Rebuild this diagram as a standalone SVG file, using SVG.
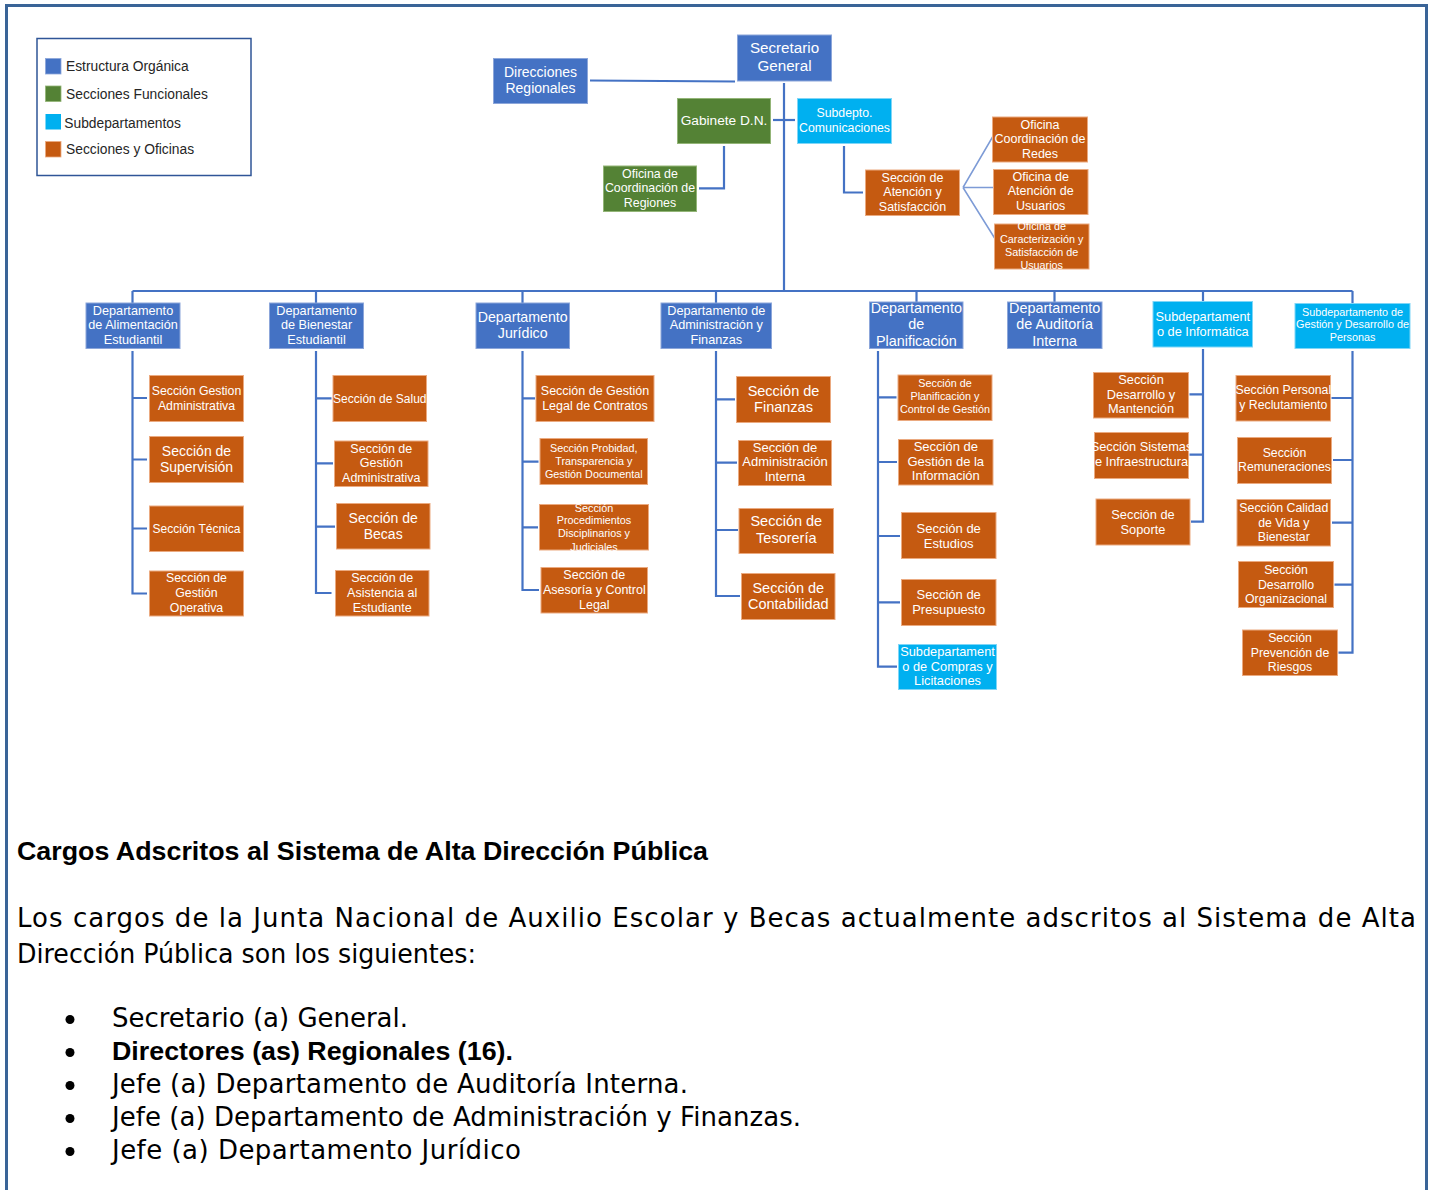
<svg xmlns="http://www.w3.org/2000/svg" width="1429" height="1190" viewBox="0 0 1429 1190">
<style>
.b{fill:#4472C4;stroke:#8CA6DA;stroke-width:1}
.g{fill:#548235;stroke:#93B577;stroke-width:1}
.c{fill:#00B0F0;stroke:#7FD6F7;stroke-width:1}
.o{fill:#C55A11;stroke:#EBAA80;stroke-width:1}
.t{font-family:"Liberation Sans",Arial,sans-serif;fill:#FFFFFF;text-anchor:middle}
.ln{fill:none;stroke:#4472C4;stroke-width:2.2}
.fan{fill:none;stroke:#7D9BD6;stroke-width:1.5}
.lg{font-family:"Liberation Sans",Arial,sans-serif;font-size:13.8px;fill:#262626}
.body{font-family:"DejaVu Sans","Liberation Sans",sans-serif;font-size:26px;fill:#000}
.bold{font-family:"Liberation Sans",Arial,sans-serif;font-weight:bold;font-size:26.5px;fill:#000}
</style>
<rect x="0" y="0" width="1429" height="1190" fill="#FFFFFF"/>
<path d="M6.5,1190 V5.5 H1426.5 V1190" fill="none" stroke="#3A6497" stroke-width="3"/>

<g id="legend">
<rect x="37" y="38.5" width="214" height="137" fill="#FFFFFF" stroke="#2F5597" stroke-width="1.5"/>
<rect x="45.5" y="58.5" width="15.5" height="15.5" fill="#4472C4" stroke="#8CA6DA" stroke-width="0.8"/>
<rect x="45.5" y="86" width="15.5" height="15.5" fill="#548235" stroke="#93B577" stroke-width="0.8"/>
<rect x="45.5" y="114" width="15.5" height="15.5" fill="#00B0F0"/>
<rect x="45.5" y="141.5" width="15.5" height="15.5" fill="#C55A11" stroke="#EBAA80" stroke-width="0.8"/>
<text class="lg" x="66" y="70.6">Estructura Orgánica</text>
<text class="lg" x="66" y="99.2">Secciones Funcionales</text>
<text class="lg" x="64.3" y="127.6">Subdepartamentos</text>
<text class="lg" x="66" y="153.9">Secciones y Oficinas</text>
</g>

<g id="connectors">
<path class="ln" d="M590,80.5 L735,81.5"/>
<path class="ln" d="M784,83 V291"/>
<path class="ln" d="M773,120 H795"/>
<path class="ln" d="M724,146 V188.3 H699"/>
<path class="ln" d="M844,146 V192.5 H863"/>
<path class="fan" d="M963,187.5 L994,134.5 M963,187.5 L997,187.5 M963,187.5 L995.5,239.5"/>
<path class="ln" d="M132.5,291 H1352.5"/>
<path class="ln" d="M132.5,291 V303 M316,291 V303 M522.5,291 V303 M716,291 V303 M916.5,291 V302 M1054.5,291 V302 M1203,291 V301.5 M1352.5,291 V303.5"/>
<path class="ln" d="M132.5,351 V593.5 H147 M132.5,398 H147 M132.5,459.5 H147 M132.5,528.5 H147"/>
<path class="ln" d="M316,351 V593 H331.5 M316,398.3 H331.5 M316,463.3 H333 M316,526.7 H335"/>
<path class="ln" d="M522.5,351 V590 H539 M522.5,398.3 H535 M522.5,461.7 H538.5 M522.5,527.3 H538"/>
<path class="ln" d="M716,351 V596 H740 M716,399.3 H735 M716,462.7 H737 M716,530 H738"/>
<path class="ln" d="M878,351 V666.7 H897 M878,397.3 H896.5 M878,462 H897 M878,536 H900 M878,602.3 H900"/>
<path class="ln" d="M1203,349 V521.7 H1191 M1203,394.3 H1189.5 M1203,454.7 H1189.5"/>
<path class="ln" d="M1352.5,351 V652.7 H1338.5 M1352.5,398 H1331.5 M1352.5,460 H1333 M1352.5,522.7 H1332 M1352.5,584.7 H1334.5"/>
</g>

<g id="secretario-general"><rect class="b" x="737.5" y="35" width="94" height="46"/>
<text class="t" font-size="15.2"><tspan x="784.5" y="52.6">Secretario</tspan><tspan x="784.5" y="71">General</tspan></text></g>
<g id="direcciones-regionales"><rect class="b" x="493.5" y="58.5" width="94" height="45"/>
<text class="t" font-size="14"><tspan x="540.5" y="76.6">Direcciones</tspan><tspan x="540.5" y="93.2">Regionales</tspan></text></g>
<g id="gabinete"><rect class="g" x="677.5" y="98.5" width="93" height="45"/>
<text class="t" font-size="13.7"><tspan x="724" y="124.8">Gabinete D.N.</tspan></text></g>
<g id="subdepto-comunicaciones"><rect class="c" x="797.5" y="98.5" width="94" height="45"/>
<text class="t" font-size="12.3"><tspan x="844.5" y="117">Subdepto.</tspan><tspan x="844.5" y="131.6">Comunicaciones</tspan></text></g>
<g id="oficina-coord-regiones"><rect class="g" x="603.5" y="166" width="93" height="45.5"/>
<text class="t" font-size="12.4"><tspan x="650" y="177.6">Oficina de</tspan><tspan x="650" y="192">Coordinación de</tspan><tspan x="650" y="207">Regiones</tspan></text></g>
<g id="seccion-atencion"><rect class="o" x="865.5" y="170" width="94" height="45.5"/>
<text class="t" font-size="12.5"><tspan x="912.5" y="181.5">Sección de</tspan><tspan x="912.5" y="196">Atención y</tspan><tspan x="912.5" y="210.5">Satisfacción</tspan></text></g>
<g id="oficina-redes"><rect class="o" x="992.5" y="117" width="95" height="45"/>
<text class="t" font-size="12.5"><tspan x="1040" y="128.5">Oficina</tspan><tspan x="1040" y="143.3">Coordinación de</tspan><tspan x="1040" y="157.6">Redes</tspan></text></g>
<g id="oficina-usuarios"><rect class="o" x="993.5" y="169.5" width="94.5" height="45"/>
<text class="t" font-size="12.5"><tspan x="1040.7" y="181">Oficina de</tspan><tspan x="1040.7" y="195.4">Atención de</tspan><tspan x="1040.7" y="210">Usuarios</tspan></text></g>
<g id="oficina-caracterizacion"><rect class="o" x="994.5" y="224" width="94.5" height="45"/>
<text class="t" font-size="10.8"><tspan x="1041.7" y="230">Oficina de</tspan><tspan x="1041.7" y="242.5">Caracterización y</tspan><tspan x="1041.7" y="256.3">Satisfacción de</tspan><tspan x="1041.7" y="268.9">Usuarios</tspan></text></g>

<g id="dep-alimentacion"><rect class="b" x="86" y="303" width="94" height="45.5"/>
<text class="t" font-size="12.7"><tspan x="133" y="315">Departamento</tspan><tspan x="133" y="329">de Alimentación</tspan><tspan x="133" y="343.5">Estudiantil</tspan></text></g>
<g id="dep-bienestar"><rect class="b" x="269.5" y="303" width="94" height="45.5"/>
<text class="t" font-size="12.7"><tspan x="316.5" y="315">Departamento</tspan><tspan x="316.5" y="329">de Bienestar</tspan><tspan x="316.5" y="343.5">Estudiantil</tspan></text></g>
<g id="dep-juridico"><rect class="b" x="476" y="303" width="93.5" height="45.5"/>
<text class="t" font-size="14.2"><tspan x="522.7" y="322.3">Departamento</tspan><tspan x="522.7" y="338.3">Jurídico</tspan></text></g>
<g id="dep-administracion"><rect class="b" x="661" y="303" width="110.5" height="45.5"/>
<text class="t" font-size="12.7"><tspan x="716.3" y="315">Departamento de</tspan><tspan x="716.3" y="329">Administración  y</tspan><tspan x="716.3" y="343.5">Finanzas</tspan></text></g>
<g id="dep-planificacion"><rect class="b" x="869.5" y="302" width="93.5" height="46.5"/>
<text class="t" font-size="14.4"><tspan x="916.3" y="313.3">Departamento</tspan><tspan x="916.3" y="329.3">de</tspan><tspan x="916.3" y="346">Planificación</tspan></text></g>
<g id="dep-auditoria"><rect class="b" x="1007.5" y="302" width="94.5" height="46.5"/>
<text class="t" font-size="14.4"><tspan x="1054.7" y="313.3">Departamento</tspan><tspan x="1054.7" y="329.3">de Auditoría</tspan><tspan x="1054.7" y="346">Interna</tspan></text></g>
<g id="subdep-informatica"><rect class="c" x="1153" y="301.5" width="99.5" height="45.5"/>
<text class="t" font-size="12.8"><tspan x="1202.8" y="321.2">Subdepartament</tspan><tspan x="1202.8" y="336.2">o de Informática</tspan></text></g>
<g id="subdep-personas"><rect class="c" x="1295" y="303.5" width="115" height="45"/>
<text class="t" font-size="10.8"><tspan x="1352.5" y="315.5">Subdepartamento de</tspan><tspan x="1352.5" y="328.1">Gestión y Desarrollo de</tspan><tspan x="1352.5" y="341.1">Personas</tspan></text></g>

<g id="sec-gestion-administrativa"><rect class="o" x="149.5" y="375.5" width="94" height="46"/>
<text class="t" font-size="12.3"><tspan x="196.5" y="395">Sección Gestion</tspan><tspan x="196.5" y="410">Administrativa</tspan></text></g>
<g id="sec-supervision"><rect class="o" x="149.5" y="436.5" width="94" height="46"/>
<text class="t" font-size="14"><tspan x="196.5" y="456">Sección de</tspan><tspan x="196.5" y="472">Supervisión</tspan></text></g>
<g id="sec-tecnica"><rect class="o" x="149.5" y="506" width="94" height="45.5"/>
<text class="t" font-size="12"><tspan x="196.5" y="532.5">Sección Técnica</tspan></text></g>
<g id="sec-gestion-operativa"><rect class="o" x="149.5" y="571" width="94" height="45"/>
<text class="t" font-size="12.3"><tspan x="196.5" y="582">Sección de</tspan><tspan x="196.5" y="597">Gestión</tspan><tspan x="196.5" y="612">Operativa</tspan></text></g>

<g id="sec-salud"><rect class="o" x="333" y="375.5" width="93.5" height="46"/>
<text class="t" font-size="12"><tspan x="379.8" y="402.5">Sección de Salud</tspan></text></g>
<g id="sec-gestion-adm-bienestar"><rect class="o" x="334.5" y="441" width="93.5" height="45.5"/>
<text class="t" font-size="12.5"><tspan x="381.3" y="452.5">Sección de</tspan><tspan x="381.3" y="467">Gestión</tspan><tspan x="381.3" y="481.5">Administrativa</tspan></text></g>
<g id="sec-becas"><rect class="o" x="336.5" y="503.5" width="93.5" height="45.5"/>
<text class="t" font-size="14"><tspan x="383.2" y="522.5">Sección de</tspan><tspan x="383.2" y="539">Becas</tspan></text></g>
<g id="sec-asistencia"><rect class="o" x="335.5" y="570.5" width="93.5" height="45.5"/>
<text class="t" font-size="12.5"><tspan x="382.2" y="582">Sección de</tspan><tspan x="382.2" y="597">Asistencia al</tspan><tspan x="382.2" y="611.5">Estudiante</tspan></text></g>

<g id="sec-legal-contratos"><rect class="o" x="536" y="375.5" width="118" height="46"/>
<text class="t" font-size="12.5"><tspan x="595" y="395">Sección de Gestión</tspan><tspan x="595" y="410">Legal de Contratos</tspan></text></g>
<g id="sec-probidad"><rect class="o" x="540" y="438.5" width="107.5" height="46"/>
<text class="t" font-size="10.8"><tspan x="593.8" y="451.5">Sección Probidad,</tspan><tspan x="593.8" y="465">Transparencia y</tspan><tspan x="593.8" y="478">Gestión Documental</tspan></text></g>
<g id="sec-procedimientos"><rect class="o" x="539.5" y="504.5" width="109" height="45.5"/>
<text class="t" font-size="10.8"><tspan x="594" y="511.5">Sección</tspan><tspan x="594" y="524">Procedimientos</tspan><tspan x="594" y="537">Disciplinarios y</tspan><tspan x="594" y="550.5">Judiciales</tspan></text></g>
<g id="sec-asesoria"><rect class="o" x="541" y="567.5" width="106.5" height="45.5"/>
<text class="t" font-size="12.5"><tspan x="594.3" y="579">Sección de</tspan><tspan x="594.3" y="593.5">Asesoría y Control</tspan><tspan x="594.3" y="608.5">Legal</tspan></text></g>

<g id="sec-finanzas"><rect class="o" x="736.5" y="376.5" width="94" height="46"/>
<text class="t" font-size="14.5"><tspan x="783.5" y="395.8">Sección de</tspan><tspan x="783.5" y="411.8">Finanzas</tspan></text></g>
<g id="sec-adm-interna"><rect class="o" x="738.5" y="440.5" width="93" height="45"/>
<text class="t" font-size="13"><tspan x="785" y="451.8">Sección de</tspan><tspan x="785" y="466.3">Administración</tspan><tspan x="785" y="481.2">Interna</tspan></text></g>
<g id="sec-tesoreria"><rect class="o" x="739" y="508.5" width="94.5" height="45"/>
<text class="t" font-size="14.5"><tspan x="786.3" y="526.3">Sección de</tspan><tspan x="786.3" y="542.7">Tesorería</tspan></text></g>
<g id="sec-contabilidad"><rect class="o" x="741.5" y="573.5" width="93.5" height="46"/>
<text class="t" font-size="14.5"><tspan x="788.3" y="593">Sección de</tspan><tspan x="788.3" y="609">Contabilidad</tspan></text></g>

<g id="sec-planificacion-control"><rect class="o" x="898" y="375" width="94" height="45.5"/>
<text class="t" font-size="10.8"><tspan x="945" y="387">Sección de</tspan><tspan x="945" y="400">Planificación y</tspan><tspan x="945" y="413">Control de Gestión</tspan></text></g>
<g id="sec-gestion-informacion"><rect class="o" x="898.5" y="439.5" width="94.5" height="45.5"/>
<text class="t" font-size="13"><tspan x="945.8" y="450.8">Sección de</tspan><tspan x="945.8" y="465.5">Gestión de la</tspan><tspan x="945.8" y="480.2">Información</tspan></text></g>
<g id="sec-estudios"><rect class="o" x="901.5" y="512.5" width="94.5" height="46"/>
<text class="t" font-size="13"><tspan x="948.7" y="532.8">Sección de</tspan><tspan x="948.7" y="547.5">Estudios</tspan></text></g>
<g id="sec-presupuesto"><rect class="o" x="901.5" y="579.5" width="94.5" height="46"/>
<text class="t" font-size="13"><tspan x="948.7" y="598.8">Sección de</tspan><tspan x="948.7" y="613.5">Presupuesto</tspan></text></g>
<g id="subdep-compras"><rect class="c" x="898.5" y="644.5" width="98" height="45"/>
<text class="t" font-size="12.8"><tspan x="947.5" y="655.5">Subdepartament</tspan><tspan x="947.5" y="670.8">o de Compras y</tspan><tspan x="947.5" y="685.2">Licitaciones</tspan></text></g>

<g id="sec-desarrollo-mantencion"><rect class="o" x="1093.5" y="372.5" width="95" height="45.5"/>
<text class="t" font-size="12.8"><tspan x="1141" y="383.8">Sección</tspan><tspan x="1141" y="398.8">Desarrollo y</tspan><tspan x="1141" y="413.2">Mantención</tspan></text></g>
<g id="sec-sistemas"><rect class="o" x="1094.5" y="432.5" width="94" height="46"/>
<text class="t" font-size="12.8"><tspan x="1141.5" y="451.2">Sección Sistemas</tspan><tspan x="1141.5" y="466.2">e Infraestructura</tspan></text></g>
<g id="sec-soporte"><rect class="o" x="1096" y="499" width="94" height="46"/>
<text class="t" font-size="12.8"><tspan x="1143" y="518.5">Sección de</tspan><tspan x="1143" y="533.5">Soporte</tspan></text></g>

<g id="sec-personal"><rect class="o" x="1236" y="375.5" width="94.5" height="45.5"/>
<text class="t" font-size="12.3"><tspan x="1283.3" y="394.3">Sección Personal</tspan><tspan x="1283.3" y="409">y Reclutamiento</tspan></text></g>
<g id="sec-remuneraciones"><rect class="o" x="1237.5" y="437.5" width="94" height="46"/>
<text class="t" font-size="12.3"><tspan x="1284.5" y="456.6">Sección</tspan><tspan x="1284.5" y="471">Remuneraciones</tspan></text></g>
<g id="sec-calidad-vida"><rect class="o" x="1237" y="499.5" width="93.5" height="46.5"/>
<text class="t" font-size="12.3"><tspan x="1283.8" y="511.6">Sección Calidad</tspan><tspan x="1283.8" y="526.6">de Vida y</tspan><tspan x="1283.8" y="541">Bienestar</tspan></text></g>
<g id="sec-desarrollo-org"><rect class="o" x="1238.5" y="561.5" width="95" height="46"/>
<text class="t" font-size="12.3"><tspan x="1286" y="573.6">Sección</tspan><tspan x="1286" y="588.6">Desarrollo</tspan><tspan x="1286" y="603.3">Organizacional</tspan></text></g>
<g id="sec-prevencion"><rect class="o" x="1242.5" y="630" width="95" height="45.5"/>
<text class="t" font-size="12.3"><tspan x="1290" y="641.6">Sección</tspan><tspan x="1290" y="656.6">Prevención de</tspan><tspan x="1290" y="671">Riesgos</tspan></text></g>

<g id="texto">
<text class="bold" x="17" y="859.5" textLength="691" lengthAdjust="spacingAndGlyphs">Cargos Adscritos al Sistema de Alta Dirección Pública</text>
<text class="body" x="17" y="926.5" textLength="1399" lengthAdjust="spacing">Los cargos de la Junta Nacional de Auxilio Escolar y Becas actualmente adscritos al Sistema de Alta</text>
<text class="body" x="17" y="963" textLength="459" lengthAdjust="spacingAndGlyphs">Dirección Pública son los siguientes:</text>
<circle cx="70" cy="1019.5" r="4.5" fill="#000"/>
<circle cx="70" cy="1052.5" r="4.5" fill="#000"/>
<circle cx="70" cy="1085.5" r="4.5" fill="#000"/>
<circle cx="70" cy="1118.5" r="4.5" fill="#000"/>
<circle cx="70" cy="1151.5" r="4.5" fill="#000"/>
<text class="body" x="112" y="1027" textLength="296" lengthAdjust="spacing">Secretario (a) General.</text>
<text class="bold" x="112" y="1060" textLength="401" lengthAdjust="spacingAndGlyphs">Directores (as) Regionales (16).</text>
<text class="body" x="112" y="1093" textLength="576" lengthAdjust="spacing">Jefe (a) Departamento de Auditoría Interna.</text>
<text class="body" x="112" y="1126" textLength="689" lengthAdjust="spacing">Jefe (a) Departamento de Administración y Finanzas.</text>
<text class="body" x="112" y="1159" textLength="409" lengthAdjust="spacing">Jefe (a) Departamento Jurídico</text>
</g>
</svg>
